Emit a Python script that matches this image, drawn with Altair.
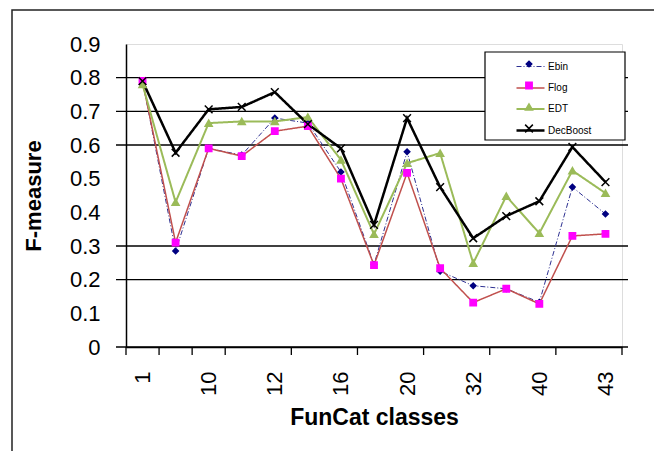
import altair as alt
import pandas as pd

classes = ["1", "2", "10", "11", "12", "14", "16", "18", "20", "30", "32", "34", "40", "41", "43"]
series_names = ["Ebin", "Flog", "EDT", "DecBoost"]
ebin = [0.79, 0.285, 0.59, 0.57, 0.68, 0.665, 0.52, 0.245, 0.58, 0.225, 0.182, 0.173, 0.133, 0.475, 0.395]
flog = [0.79, 0.31, 0.59, 0.567, 0.641, 0.656, 0.50, 0.243, 0.517, 0.234, 0.132, 0.173, 0.128, 0.33, 0.336]
edt = [0.78, 0.43, 0.665, 0.67, 0.67, 0.683, 0.556, 0.335, 0.546, 0.576, 0.249, 0.448, 0.338, 0.524, 0.457]
decboost = [0.79, 0.577, 0.706, 0.713, 0.757, 0.662, 0.59, 0.363, 0.68, 0.475, 0.323, 0.389, 0.433, 0.594, 0.49]

grid_values = [0, 0.2, 0.3, 0.6, 0.7, 0.8]
x_tick_positions = [0.5, 1.5, 2.5, 3.5, 5.5, 7.5, 9.5, 11.5, 13.5, 15.5]
label_positions = [1, 3, 5, 7, 9, 11, 13, 15]
y_label_values = [0, 0.1, 0.2, 0.3, 0.4, 0.5, 0.6, 0.7, 0.8, 0.9]

line_colors = ["#2E3192", "#C0504D", "#9BBB59", "#000000"]
line_widths = [1, 2.5, 3, 1.5]
line_dashes = [[5, 2, 1, 2], [1, 0], [1, 0], [1, 0]]
marker_fill = ["#000080", "#FF00FF", "#9BBB59", "transparent"]
marker_stroke = ["#000080", "#FF00FF", "#9BBB59", "#000000"]
marker_shapes = ["diamond", "square", "triangle-up", "M-1,-1L1,1M-1,1L1,-1"]
marker_sizes = [30, 60, 80, 45]

# marker layer uses its own key so that its legend (markers only) stays separate
marker_keys = [s + " " for s in series_names]

rows = []
for name, mkey, vals in zip(series_names, marker_keys, [ebin, flog, edt, decboost]):
    for i, (c, v) in enumerate(zip(classes, vals)):
        rows.append({"idx": i + 1, "cls": c, "series": name, "mseries": mkey, "value": v})
df = pd.DataFrame(rows)

FONT = "Liberation Sans"
label_array = "[" + ",".join("'%s'" % c for c in classes) + "]"

xscale = alt.Scale(domain=[0.5, 15.5], nice=False, zero=False)
yscale = alt.Scale(domain=[0, 0.9], nice=False)

xaxis = alt.Axis(values=label_positions, labelExpr=label_array + "[datum.value-1]",
                 ticks=False, grid=False,
                 labelAngle=270, labelFontSize=22, labelFont=FONT, labelColor="#000",
                 labelPadding=24, titleFontSize=23, titleFont=FONT, titleFontWeight="bold",
                 titleColor="#000", titlePadding=11, domainColor="#000", domainWidth=1.5)
yaxis = alt.Axis(values=y_label_values,
                 labelExpr="datum.value == 0 ? '0' : format(datum.value, '.1f')",
                 ticks=False, grid=False, labelFontSize=22,
                 labelFont=FONT, labelColor="#000", labelPadding=26,
                 titleFontSize=22, titleFont=FONT, titleFontWeight="bold", titleColor="#000",
                 titlePadding=24, domainColor="#000", domainWidth=1.5)
XT = "FunCat classes"
YT = "F-measure"

line_legend = alt.Legend(orient="none", legendX=389, legendY=8, title=None,
                         symbolType="stroke", symbolSize=784, labelFont=FONT,
                         labelFontSize=10, labelColor="#000", rowPadding=0,
                         padding=0, labelOffset=2, gridAlign="all")
mark_legend = alt.Legend(orient="none", legendX=398, legendY=15, title=None,
                         labelFontSize=10, labelFont=FONT, labelExpr="''",
                         rowPadding=7.5, padding=0, symbolOpacity=1, symbolStrokeWidth=1.5,
                         gridAlign="all")

base = alt.Chart(df)

lines = base.mark_line().encode(
    x=alt.X("idx:Q", scale=xscale, axis=xaxis, title=XT),
    y=alt.Y("value:Q", scale=yscale, axis=yaxis, title=YT),
    color=alt.Color("series:N", scale=alt.Scale(domain=series_names, range=line_colors), legend=line_legend),
    strokeWidth=alt.StrokeWidth("series:N", scale=alt.Scale(domain=series_names, range=line_widths), legend=line_legend),
    strokeDash=alt.StrokeDash("series:N", scale=alt.Scale(domain=series_names, range=line_dashes), legend=line_legend),
)

points = base.mark_point(opacity=1, strokeWidth=1.5).encode(
    x=alt.X("idx:Q", scale=xscale, axis=xaxis, title=XT),
    y=alt.Y("value:Q", scale=yscale, axis=yaxis, title=YT),
    fill=alt.Fill("mseries:N", scale=alt.Scale(domain=marker_keys, range=marker_fill), legend=mark_legend),
    stroke=alt.Stroke("mseries:N", scale=alt.Scale(domain=marker_keys, range=marker_stroke), legend=mark_legend),
    size=alt.Size("mseries:N", scale=alt.Scale(domain=marker_keys, range=marker_sizes), legend=mark_legend),
    shape=alt.Shape("mseries:N", scale=alt.Scale(domain=marker_keys, range=marker_shapes), legend=mark_legend),
)

grid = alt.Chart(pd.DataFrame({"g": grid_values})).mark_rule(color="#000", strokeWidth=1.3).encode(
    y=alt.Y("g:Q", scale=yscale, axis=yaxis, title=YT),
    x=alt.value(-10), x2=alt.value(502),
)

xticks = alt.Chart(pd.DataFrame({"t": x_tick_positions})).mark_rule(color="#000", strokeWidth=1.3).encode(
    x=alt.X("t:Q", scale=xscale, axis=xaxis, title=XT),
    y=alt.value(303), y2=alt.value(311),
)

legend_box = alt.Chart(pd.DataFrame({"a": [0]})).mark_rect(fill="white", stroke="#000", strokeWidth=1.2).encode(
    x=alt.value(359), x2=alt.value(499), y=alt.value(8), y2=alt.value(96),
)

frame = alt.Chart(pd.DataFrame({"a": [0]})).mark_rect(fill="transparent", stroke="#222", strokeWidth=1.5).encode(
    x=alt.value(-114), x2=alt.value(620), y=alt.value(-34), y2=alt.value(500),
)

chart = alt.layer(frame, grid, xticks, legend_box, lines, points).properties(
    width=496, height=303,
    autosize=alt.AutoSizeParams(type="none"),
    padding={"left": 118, "top": 36, "right": 32, "bottom": 104},
).configure_view(stroke=None).configure(background="white")

chart.save("out.html", embed_options={"renderer": "svg", "actions": False})
